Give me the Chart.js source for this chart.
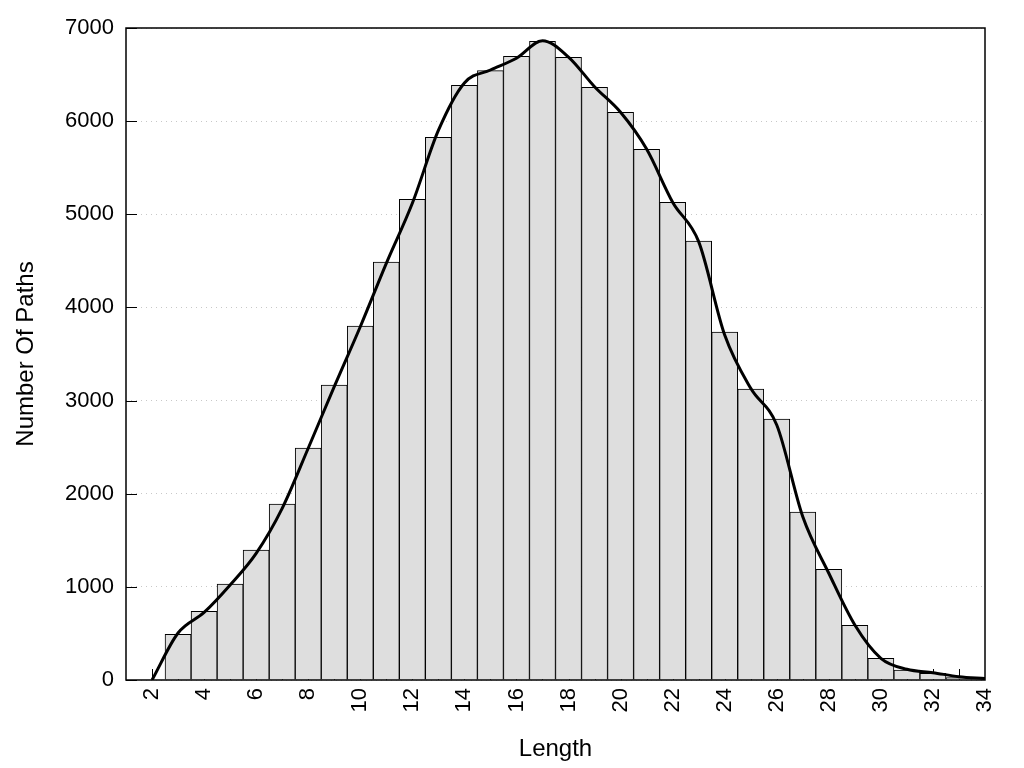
<!DOCTYPE html>
<html>
<head>
<meta charset="utf-8">
<title>Number Of Paths by Length</title>
<script src="https://cdn.jsdelivr.net/npm/chart.js@4.4.1/dist/chart.umd.min.js"></script>
<style>
    html, body { margin: 0; padding: 0; background: #fff; }
    #wrap { width: 1024px; height: 768px; position: relative; }
</style>
</head>
<body>
<div id="wrap"><canvas id="histChart"></canvas></div>
<script>
// histogram bars (one per path length)
const barLengths = [3, 4, 5, 6, 7, 8, 9, 10, 11, 12, 13, 14, 15, 16, 17, 18,
    19, 20, 21, 22, 23, 24, 25, 26, 27, 28, 29, 30, 31, 32, 33];
const barCounts = [490, 737, 1031, 1396, 1890, 2491, 3167, 3801, 4488, 5160, 5826, 6385, 6542, 6696, 6857, 6686,
    6364, 6095, 5698, 5129, 4713, 3736, 3124, 2802, 1804, 1188, 587, 233, 107, 72, 25];

// smoothed curve drawn over the bars
const curveLengths = [2, 3, 4, 5, 6, 7, 8, 9, 10, 11, 12, 13, 14, 15, 16, 17, 18,
    19, 20, 21, 22, 23, 24, 25, 26, 27, 28, 29, 30, 31, 32, 33, 34];
const curveCounts = [0, 505, 725, 1020, 1360, 1843, 2488, 3149, 3793, 4473, 5118, 5900, 6410, 6549, 6675, 6864, 6688,
    6370, 6095, 5700, 5130, 4706, 3704, 3132, 2738, 1753, 1146, 590, 233, 115, 79, 36, 15];

const xTicks = [2, 4, 6, 8, 10, 12, 14, 16, 18, 20, 22, 24, 26, 28, 30, 32, 34];
const yTicks = [0, 1000, 2000, 3000, 4000, 5000, 6000, 7000];

const FONT = "'Liberation Sans', Arial, sans-serif";

// frame around the plot + short inward tick marks
const framePlugin = {
    id: 'frame',
    beforeDatasetsDraw(chart) {
        const { ctx, chartArea: a, scales } = chart;
        ctx.save();
        ctx.strokeStyle = '#000';
        ctx.lineWidth = 1;
        ctx.beginPath();
        for (let n = 2; n <= 33; n++) {
            const px = Math.round(scales.x.getPixelForValue(n)) + 0.5;
            ctx.moveTo(px, a.bottom);
            ctx.lineTo(px, a.bottom - 11);
        }
        yTicks.forEach(v => {
            const py = Math.round(scales.y.getPixelForValue(v)) + 0.5;
            ctx.moveTo(a.left, py);
            ctx.lineTo(a.left + 11, py);
        });
        ctx.stroke();
        ctx.restore();
    },
    afterDatasetsDraw(chart) {
        const { ctx, chartArea: a } = chart;
        ctx.save();
        ctx.strokeStyle = '#000';
        ctx.lineWidth = 1.5;
        ctx.strokeRect(a.left, a.top, a.right - a.left, a.bottom - a.top);
        ctx.restore();
    }
};

new Chart(document.getElementById('histChart'), {
    data: {
        datasets: [
            {
                type: 'line',
                label: 'Curve',
                data: curveLengths.map((x, i) => ({ x: x, y: curveCounts[i] })),
                borderColor: '#000',
                borderWidth: 3,
                pointRadius: 0,
                fill: false,
                cubicInterpolationMode: 'monotone',
                order: 0
            },
            {
                type: 'bar',
                label: 'Paths',
                data: barLengths.map((x, i) => ({ x: x, y: barCounts[i] })),
                backgroundColor: '#dedede',
                borderColor: '#000',
                borderWidth: 1,
                barPercentage: 1,
                categoryPercentage: 1,
                order: 1
            }
        ]
    },
    options: {
        responsive: true,
        maintainAspectRatio: false,
        animation: false,
        layout: { padding: { top: 28, right: 39, left: 0, bottom: 0 } },
        plugins: {
            legend: { display: false },
            tooltip: { enabled: false }
        },
        scales: {
            x: {
                type: 'linear',
                min: 1,
                max: 34,
                offset: false,
                afterFit: s => { s.height = 88; },
                afterBuildTicks: s => { s.ticks = xTicks.map(v => ({ value: v })); },
                ticks: {
                    autoSkip: false,
                    maxRotation: 90,
                    minRotation: 90,
                    padding: 8,
                    color: '#000',
                    font: { family: FONT, size: 22 }
                },
                grid: { display: false, drawTicks: false, offset: false },
                border: { display: false },
                title: {
                    display: true,
                    text: 'Length',
                    color: '#000',
                    font: { family: FONT, size: 24 },
                    padding: { top: 0, bottom: 4 }
                }
            },
            y: {
                min: 0,
                max: 7000,
                afterFit: s => { s.width = 126; },
                afterBuildTicks: s => { s.ticks = yTicks.map(v => ({ value: v })); },
                ticks: {
                    padding: 12,
                    color: '#000',
                    font: { family: FONT, size: 22 },
                    callback: v => String(v)
                },
                grid: { color: '#c8c8c8', lineWidth: 1, drawTicks: false },
                border: { display: false, dash: [1, 4] },
                title: {
                    display: true,
                    text: 'Number Of Paths',
                    color: '#000',
                    font: { family: FONT, size: 24 },
                    padding: { top: 12, bottom: 0 }
                }
            }
        }
    },
    plugins: [framePlugin]
});
</script>
</body>
</html>
